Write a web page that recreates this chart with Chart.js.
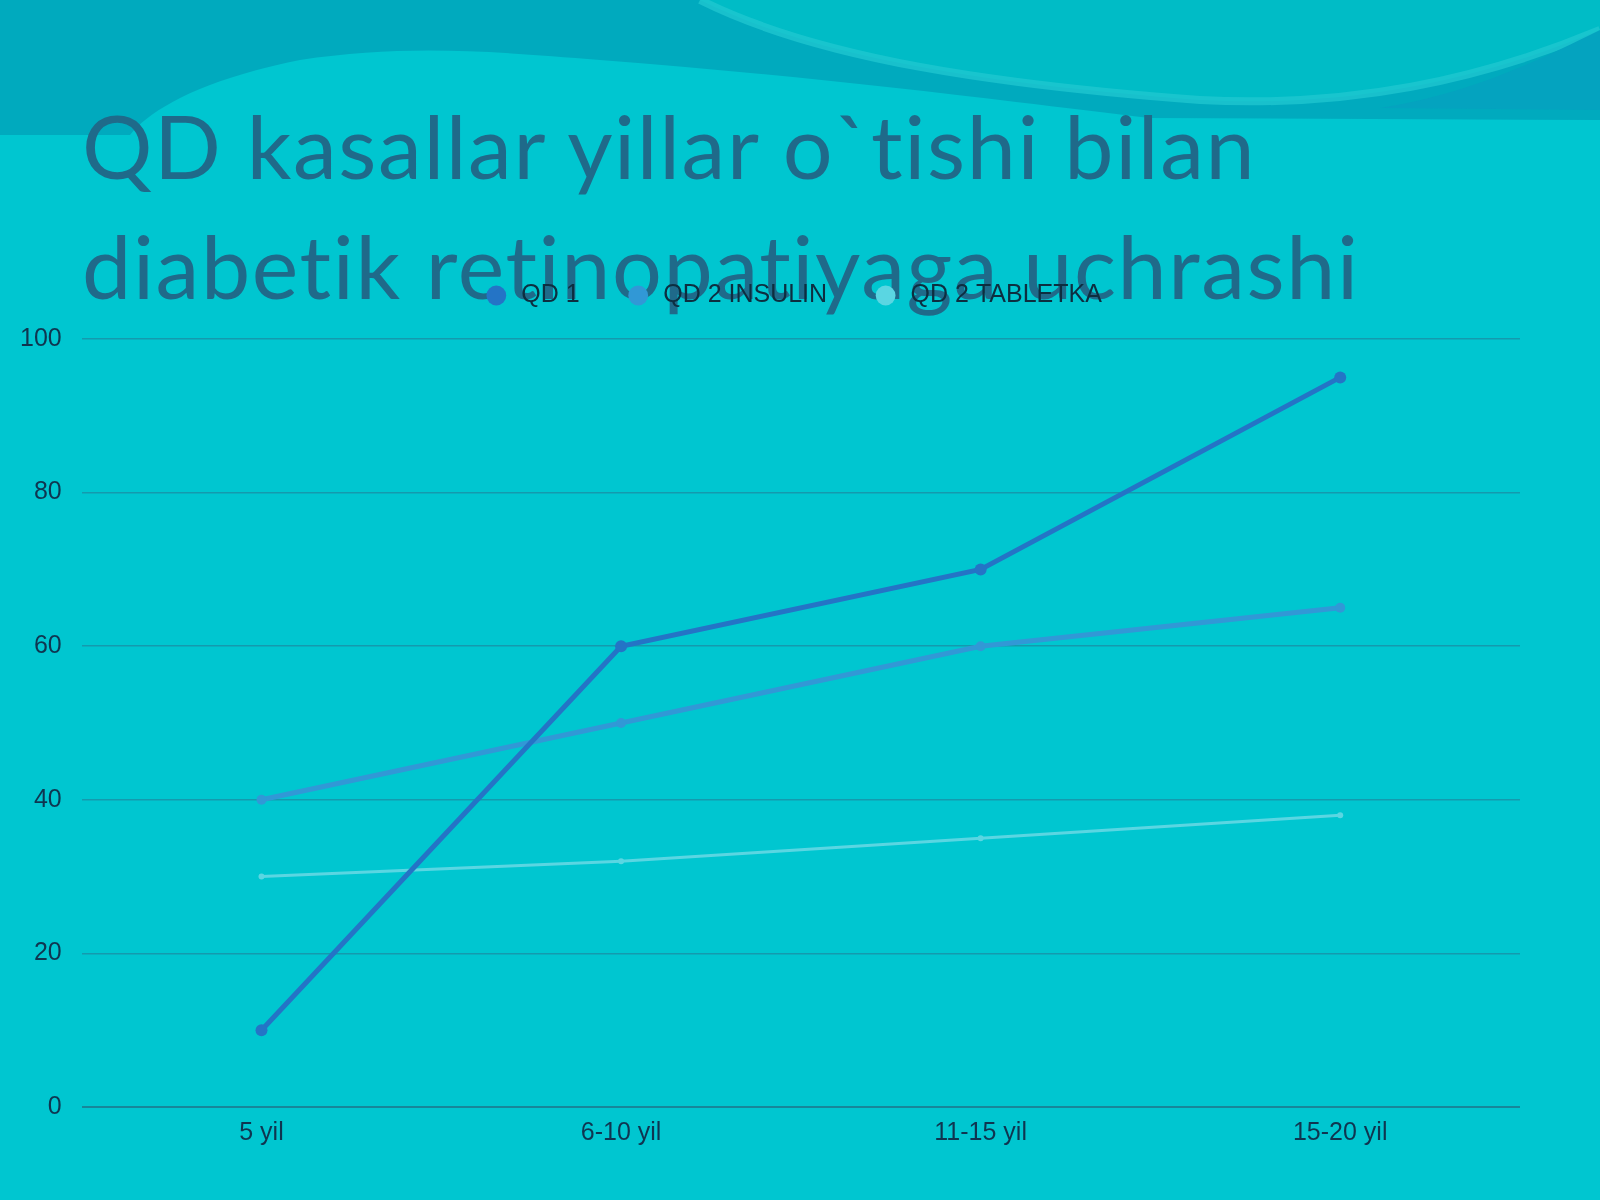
<!DOCTYPE html>
<html><head><meta charset="utf-8">
<script src="https://cdn.jsdelivr.net/npm/chart.js@4"></script>
<style>
html,body{margin:0;padding:0;width:1600px;height:1200px;overflow:hidden;background:#00c6d0;}
#bg{position:absolute;left:0;top:0;}
#title{position:absolute;left:82px;top:85px;margin:0;font-family:Lato,"Open Sans",sans-serif;font-weight:normal;font-size:88px;letter-spacing:1.6px;line-height:120px;color:#1f6a8a;white-space:nowrap;}
#c{position:absolute;left:0;top:0;}
</style></head><body>
<svg id="bg" width="1600" height="1200" viewBox="0 0 1600 1200">
  <rect x="0" y="0" width="1600" height="1200" fill="#00c6d0"/>
  <path d="M0,0 L1600,0 L1600,120 L1150,118 C1000,100 800,75 600,60 C480,50 400,45 300,60 C200,80 150,110 130,135 L0,135 Z" fill="#00aabe"/>
  <path d="M700,0 C820,60 1000,85 1200,100 C1350,108 1480,80 1600,30 L1600,0 Z" fill="#00bcc6"/>
  <path d="M700,0 C820,60 1000,85 1200,100 C1350,108 1480,80 1600,30" fill="none" stroke="#22c9d2" stroke-width="8" opacity="0.7"/>
  <path d="M1600,30 C1520,70 1460,95 1380,108 L1600,110 Z" fill="#04a3bf"/>
</svg>
<h1 id="title">QD kasallar yillar o`tishi bilan<br>diabetik retinopatiyaga uchrashi</h1>
<canvas id="c" width="1600" height="1200"></canvas>
<script>
const categories = ["5 yil", "6-10 yil", "11-15 yil", "15-20 yil"];
const seriesNames = ["QD 1", "QD 2 INSULIN", "QD 2 TABLETKA"];
const qd1 = [10, 60, 70, 95];
const qd2Insulin = [40, 50, 60, 65];
const qd2Tabletka = [30, 32, 35, 38];
const yTicks = [0, 20, 40, 60, 80, 100];

const colors = ["#2474c6", "#3198d6", "#5ad6e2"];
const widths = [5, 5, 3];
const radii = [6, 5, 3];
const values = [qd1, qd2Insulin, qd2Tabletka];
const FONT = '"Liberation Sans", Arial, sans-serif';

const legendFit = {
  id: 'legendFit',
  afterInit(chart) {
    const lg = chart.legend;
    if (lg && !lg._patched) {
      const origFit = lg.fit;
      lg.fit = function() { origFit.call(this); this.height = 102; };
      const origDraw = lg.draw;
      lg.draw = function() {
        const c = this.ctx; c.save(); c.translate(-8, 0);
        origDraw.call(this); c.restore();
      };
      lg._patched = true;
    }
  }
};

new Chart(document.getElementById('c'), {
  type: 'line',
  data: {
    labels: categories,
    datasets: seriesNames.map((n, i) => ({
      label: n,
      data: values[i],
      borderColor: colors[i],
      backgroundColor: colors[i],
      borderWidth: widths[i],
      pointRadius: radii[i],
      pointBackgroundColor: colors[i],
      pointBorderWidth: 0,
      tension: 0,
      fill: false
    }))
  },
  options: {
    responsive: false,
    animation: false,
    devicePixelRatio: 1,
    layout: { padding: { left: 0, right: 80, top: 237, bottom: 41 } },
    plugins: {
      legend: {
        position: 'top',
        fullSize: false,
        labels: {
          usePointStyle: true,
          pointStyle: 'circle',
          boxWidth: 25,
          boxHeight: 14,
          padding: 46,
          color: '#0d2e40',
          font: { family: FONT, size: 25 }
        }
      },
      tooltip: { enabled: false }
    },
    scales: {
      x: {
        offset: true,
        grid: { display: false, drawTicks: false },
        border: { display: false },
        ticks: { padding: 11, color: '#0f3550', font: { family: FONT, size: 25 } }
      },
      y: {
        min: 0, max: 100,
        afterBuildTicks(s) { s.ticks = yTicks.map(v => ({ value: v })); },
        grid: {
          drawTicks: false,
          color: (ctx) => ctx.tick && ctx.tick.value === 0 ? '#17879a' : '#149aae',
          lineWidth: (ctx) => ctx.tick && ctx.tick.value === 0 ? 2 : 1.5
        },
        border: { display: false },
        ticks: { padding: 20, color: '#0f3550', font: { family: FONT, size: 25 } }
      }
    }
  },
  plugins: [legendFit]
});
</script>
</body></html>
